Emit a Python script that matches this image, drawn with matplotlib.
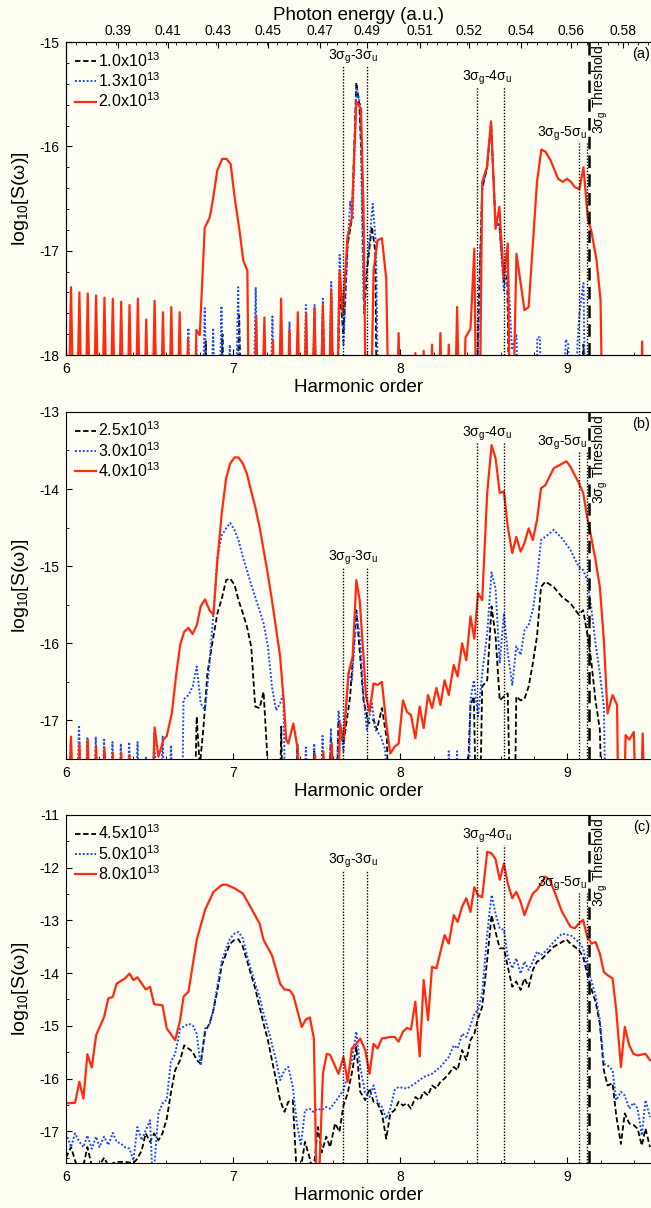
import matplotlib
matplotlib.use("Agg")
import matplotlib.pyplot as plt
from matplotlib.ticker import MultipleLocator

plt.rcParams['font.family'] = ['Liberation Sans', 'DejaVu Sans']
plt.rcParams['mathtext.fontset'] = 'custom'
plt.rcParams['mathtext.rm'] = 'Liberation Sans'
plt.rcParams['mathtext.it'] = 'Liberation Sans:italic'
plt.rcParams['mathtext.bf'] = 'Liberation Sans:bold'
plt.rcParams['axes.unicode_minus'] = False

BG = '#fffef3'

# ---- data: (harmonic order, log10 S) ----
# values of -19.5 / -19 sit below the axis floor (signal ~ 0)

# panel (a)
a_labels = ['1.0x10$^{13}$', '1.3x10$^{13}$', '2.0x10$^{13}$']
a_black = [(6.0,-19.5),(6.81,-19.5),(6.836,-17.87),(6.86,-19.5),(6.91,-19.5),(6.936,-17.80),(6.96,-19.5),
           (7.01,-19.5),(7.036,-17.62),(7.06,-19.5),(7.46,-19.5),(7.487,-17.65),(7.51,-19.5),(7.537,-17.55),
           (7.56,-19.5),(7.587,-17.45),(7.61,-19.5),(7.637,-17.38),(7.66,-17.8),(7.684,-16.95),(7.71,-16.7),
           (7.737,-15.39),(7.755,-15.6),(7.77,-16.2),(7.785,-17.6),(7.80,-17.2),(7.83,-16.77),(7.85,-17.0),
           (7.865,-19.5),(8.44,-19.5),(8.47,-17.5),(8.49,-16.4),(8.52,-16.2),(8.543,-15.78),(8.57,-16.75),
           (8.593,-16.75),(8.62,-17.3),(8.64,-17.25),(8.66,-19.5),(9.08,-19.5),(9.096,-17.9),(9.11,-19.5),(9.5,-19.5)]
a_blue = [(6.0,-19.5),(6.71,-19.5),(6.732,-17.74),(6.755,-19.5),(6.78,-17.9),(6.805,-19.5),(6.83,-17.55),
          (6.855,-19.5),(6.88,-17.74),(6.905,-19.5),(6.93,-17.53),(6.955,-19.5),(6.98,-17.9),(7.005,-19.5),
          (7.03,-17.35),(7.055,-19.5),(7.11,-19.5),(7.135,-17.35),(7.16,-19.5),(7.185,-17.8),(7.21,-19.5),
          (7.235,-17.63),(7.26,-19.5),(7.287,-17.9),(7.31,-19.5),(7.337,-17.68),(7.36,-19.5),(7.387,-17.8),
          (7.41,-19.5),(7.435,-17.52),(7.46,-19.5),(7.487,-17.52),(7.51,-19.5),(7.537,-17.46),(7.56,-19.5),
          (7.587,-17.3),(7.61,-19.5),(7.637,-17.04),(7.66,-17.9),(7.684,-17.0),(7.70,-16.53),(7.715,-16.7),
          (7.737,-15.43),(7.76,-15.6),(7.78,-17.47),(7.81,-17.0),(7.835,-16.55),(7.855,-16.95),(7.875,-19.5),
          (8.45,-19.5),(8.47,-17.63),(8.49,-16.42),(8.518,-16.2),(8.543,-15.8),(8.57,-16.7),(8.593,-16.77),
          (8.62,-17.38),(8.643,-17.12),(8.668,-17.95),(8.695,-17.8),(8.72,-19.5),(8.80,-19.5),(8.82,-17.83),
          (8.835,-17.83),(8.86,-19.5),(8.96,-19.5),(8.99,-17.85),(9.005,-17.9),(9.03,-19.5),(9.06,-17.9),
          (9.072,-17.6),(9.096,-17.31),(9.115,-19.5),(9.5,-19.5)]
a_red = [(6.005,-19.5),(6.03,-17.35),(6.055,-19.5),(6.08,-17.40),(6.105,-19.5),(6.13,-17.41),(6.155,-19.5),
         (6.18,-17.43),(6.205,-19.5),(6.23,-17.45),(6.255,-19.5),(6.28,-17.46),(6.305,-19.5),(6.33,-17.49),
         (6.355,-19.5),(6.38,-17.52),(6.405,-19.5),(6.43,-17.46),(6.455,-19.5),(6.48,-17.66),(6.505,-19.5),
         (6.53,-17.48),(6.555,-19.5),(6.58,-17.59),(6.605,-19.5),(6.63,-17.54),(6.655,-19.5),(6.68,-17.59),
         (6.705,-19.5),(6.73,-17.84),(6.755,-19.5),(6.78,-17.76),(6.80,-17.81),(6.83,-16.78),(6.86,-16.68),
         (6.88,-16.5),(6.905,-16.23),(6.935,-16.12),(6.96,-16.12),(6.985,-16.17),(7.01,-16.5),(7.04,-16.83),
         (7.06,-17.09),(7.085,-17.19),(7.10,-19.5),(7.115,-19.5),(7.138,-17.63),(7.16,-19.5),(7.187,-17.64),
         (7.21,-19.5),(7.238,-17.86),(7.26,-19.5),(7.287,-17.46),(7.31,-19.5),(7.337,-17.76),(7.36,-19.5),
         (7.387,-17.59),(7.41,-19.5),(7.437,-17.60),(7.46,-19.5),(7.487,-17.55),(7.51,-19.5),(7.537,-17.52),
         (7.56,-19.5),(7.587,-17.38),(7.61,-19.5),(7.637,-17.19),(7.656,-17.6),(7.684,-16.87),(7.71,-16.68),
         (7.737,-15.57),(7.765,-15.64),(7.78,-16.6),(7.80,-19.5),(7.815,-19.5),(7.84,-17.19),(7.864,-16.9),
         (7.89,-16.88),(7.916,-17.27),(7.94,-19.5),(7.965,-19.5),(7.99,-17.79),(8.015,-19.5),(8.065,-19.5),
         (8.09,-17.98),(8.115,-19.5),(8.14,-17.96),(8.165,-19.5),(8.19,-17.9),(8.215,-19.5),(8.24,-17.79),
         (8.265,-19.5),(8.29,-17.9),(8.315,-19.5),(8.34,-17.54),(8.365,-19.5),(8.39,-17.83),(8.42,-17.75),
         (8.443,-16.98),(8.46,-19.5),(8.47,-19.5),(8.49,-16.34),(8.518,-16.2),(8.543,-15.76),(8.57,-16.79),
         (8.593,-16.58),(8.619,-17.27),(8.643,-16.93),(8.663,-19.5),(8.695,-17.03),(8.743,-17.57),(8.768,-17.54),
         (8.818,-16.34),(8.844,-16.03),(8.868,-16.05),(8.898,-16.13),(8.944,-16.31),(8.972,-16.34),(8.998,-16.31),
         (9.02,-16.34),(9.044,-16.39),(9.072,-16.41),(9.096,-16.2),(9.122,-16.69),(9.144,-16.82),(9.174,-17.09),
         (9.198,-17.47),(9.218,-19.5),(9.43,-19.5),(9.447,-17.87),(9.465,-19.5),(9.5,-19.5)]

# panel (b)
b_labels = ['2.5x10$^{13}$', '3.0x10$^{13}$', '4.0x10$^{13}$']
b_black = [(6.005,-19),(6.03,-17.35),(6.055,-19),(6.105,-19),(6.13,-17.3),(6.155,-19),(6.205,-19),(6.23,-17.4),
           (6.255,-19),(6.76,-19),(6.782,-16.95),(6.80,-17.6),(6.822,-17.1),(6.846,-16.39),(6.882,-15.91),
           (6.906,-15.61),(6.932,-15.42),(6.958,-15.18),(6.982,-15.16),(7.008,-15.24),(7.032,-15.44),(7.058,-15.61),
           (7.082,-15.78),(7.108,-16.04),(7.132,-16.82),(7.158,-16.84),(7.182,-16.63),(7.208,-17.6),(7.22,-19),
           (7.27,-19),(7.288,-17.08),(7.30,-19),(7.36,-19),(7.385,-17.35),(7.41,-19),(7.46,-19),(7.485,-17.4),
           (7.51,-19),(7.56,-19),(7.585,-17.2),(7.61,-19),(7.63,-17.0),(7.66,-17.3),(7.70,-16.69),(7.737,-15.57),
           (7.76,-16.17),(7.78,-16.74),(7.81,-17.04),(7.84,-16.99),(7.86,-17.12),(7.89,-16.84),(7.92,-17.25),
           (7.94,-19),(8.38,-19),(8.42,-16.8),(8.44,-16.69),(8.46,-19),(8.47,-19),(8.49,-16.56),(8.52,-16.48),
           (8.546,-15.52),(8.57,-15.91),(8.595,-16.74),(8.62,-16.69),(8.643,-16.65),(8.665,-19),(8.68,-19),
           (8.694,-16.69),(8.72,-16.74),(8.743,-16.72),(8.768,-16.56),(8.793,-16.26),(8.818,-15.91),(8.842,-15.27),
           (8.868,-15.2),(8.918,-15.27),(8.968,-15.4),(9.018,-15.48),(9.068,-15.63),(9.094,-15.57),(9.118,-15.87),
           (9.142,-16.22),(9.168,-16.74),(9.194,-17.12),(9.218,-19),(9.5,-19)]
b_blue = [(6.005,-19),(6.028,-17.28),(6.053,-19),(6.078,-17.06),(6.103,-19),(6.128,-17.23),(6.153,-19),
          (6.178,-17.21),(6.203,-19),(6.228,-17.25),(6.253,-19),(6.278,-17.28),(6.303,-19),(6.328,-17.3),
          (6.353,-19),(6.378,-17.28),(6.403,-19),(6.428,-17.28),(6.453,-19),(6.478,-17.47),(6.503,-19),
          (6.528,-17.17),(6.553,-19),(6.578,-17.21),(6.603,-19),(6.628,-17.32),(6.653,-19),(6.69,-19),
          (6.703,-16.73),(6.733,-16.67),(6.758,-16.56),(6.782,-16.3),(6.806,-16.78),(6.832,-16.87),(6.858,-16.27),
          (6.882,-15.61),(6.906,-14.88),(6.932,-14.6),(6.958,-14.51),(6.982,-14.44),(7.008,-14.53),(7.032,-14.66),
          (7.058,-14.88),(7.082,-15.05),(7.108,-15.24),(7.132,-15.4),(7.158,-15.57),(7.182,-15.74),(7.208,-16.04),
          (7.232,-16.56),(7.257,-16.87),(7.281,-16.78),(7.30,-16.65),(7.32,-19),(7.36,-19),(7.385,-17.3),
          (7.41,-19),(7.435,-17.35),(7.46,-19),(7.485,-17.3),(7.51,-19),(7.535,-17.2),(7.56,-19),(7.585,-17.1),
          (7.61,-19),(7.63,-16.87),(7.66,-17.4),(7.69,-16.39),(7.71,-16.5),(7.739,-15.61),(7.76,-15.96),
          (7.78,-16.69),(7.80,-17.12),(7.83,-16.78),(7.85,-17.12),(7.88,-17.19),(7.91,-17.38),(7.93,-19),
          (8.27,-19),(8.29,-17.4),(8.31,-19),(8.32,-19),(8.34,-17.4),(8.36,-19),(8.40,-19),(8.42,-16.73),
          (8.44,-16.48),(8.465,-16.95),(8.49,-16.39),(8.52,-15.87),(8.546,-15.08),(8.57,-15.29),(8.595,-16.26),
          (8.62,-15.61),(8.643,-16.13),(8.67,-16.54),(8.694,-16.04),(8.72,-16.15),(8.743,-15.83),(8.768,-15.76),
          (8.793,-15.57),(8.818,-15.18),(8.842,-14.66),(8.868,-14.62),(8.918,-14.53),(8.968,-14.64),(9.018,-14.79),
          (9.068,-15.01),(9.094,-15.05),(9.118,-15.18),(9.142,-15.53),(9.168,-16.0),(9.194,-16.39),(9.218,-16.82),
          (9.234,-19),(9.5,-19)]
b_red = [(6.005,-19),(6.03,-17.21),(6.055,-19),(6.08,-17.3),(6.105,-19),(6.13,-17.25),(6.155,-19),(6.18,-17.34),
         (6.205,-19),(6.23,-17.36),(6.255,-19),(6.28,-17.42),(6.305,-19),(6.33,-17.42),(6.355,-19),(6.38,-17.45),
         (6.405,-19),(6.505,-19),(6.53,-17.09),(6.553,-17.47),(6.583,-17.25),(6.603,-17.2),(6.633,-16.91),
         (6.659,-16.41),(6.683,-16.02),(6.707,-15.85),(6.733,-15.8),(6.757,-15.88),(6.783,-15.76),(6.806,-15.52),
         (6.832,-15.43),(6.858,-15.57),(6.882,-15.63),(6.906,-14.92),(6.932,-14.31),(6.958,-13.86),(6.982,-13.67),
         (7.008,-13.59),(7.032,-13.59),(7.058,-13.67),(7.082,-13.8),(7.108,-14.03),(7.132,-14.23),(7.158,-14.49),
         (7.182,-14.79),(7.208,-15.11),(7.232,-15.44),(7.257,-15.81),(7.281,-16.17),(7.305,-16.82),(7.317,-17.25),
         (7.33,-17.3),(7.36,-17.04),(7.387,-17.38),(7.41,-19),(7.42,-19),(7.44,-17.6),(7.46,-19),(7.49,-17.45),
         (7.515,-19),(7.54,-17.4),(7.565,-19),(7.59,-17.3),(7.615,-19),(7.64,-17.04),(7.66,-17.25),(7.69,-16.39),
         (7.715,-16.17),(7.737,-15.18),(7.757,-15.44),(7.78,-16.17),(7.795,-16.69),(7.816,-16.89),(7.84,-16.52),
         (7.864,-16.54),(7.89,-16.5),(7.916,-17.04),(7.94,-17.43),(7.966,-17.34),(7.99,-17.3),(8.016,-16.74),
         (8.04,-16.89),(8.064,-16.93),(8.09,-17.23),(8.116,-16.82),(8.14,-17.1),(8.166,-16.67),(8.19,-16.84),
         (8.216,-16.58),(8.24,-16.8),(8.265,-16.48),(8.29,-16.67),(8.32,-16.28),(8.343,-16.43),(8.37,-16.0),
         (8.395,-16.22),(8.42,-15.65),(8.443,-15.94),(8.465,-15.35),(8.49,-15.44),(8.52,-14.05),(8.546,-13.43),
         (8.57,-13.6),(8.595,-14.05),(8.62,-14.03),(8.643,-14.49),(8.67,-14.83),(8.694,-14.62),(8.72,-14.81),
         (8.743,-14.7),(8.768,-14.51),(8.793,-14.66),(8.818,-14.4),(8.842,-13.99),(8.868,-13.95),(8.918,-13.73),
         (8.968,-13.67),(8.994,-13.64),(9.018,-13.71),(9.068,-13.92),(9.094,-14.05),(9.118,-14.36),(9.142,-14.62),
         (9.168,-14.92),(9.194,-15.27),(9.218,-15.96),(9.24,-16.91),(9.27,-16.67),(9.297,-16.8),(9.31,-19),
         (9.33,-19),(9.348,-17.19),(9.37,-17.25),(9.397,-17.15),(9.42,-19),(9.43,-19),(9.45,-17.17),(9.473,-19),
         (9.5,-19)]

# panel (c)
c_labels = ['4.5x10$^{13}$', '5.0x10$^{13}$', '8.0x10$^{13}$']
c_black = [(6.0,-17.5),(6.03,-17.3),(6.054,-17.55),(6.08,-17.8),(6.104,-17.65),(6.128,-17.3),(6.154,-17.65),
           (6.2,-17.65),(6.228,-17.5),(6.253,-17.65),(6.3,-17.58),(6.353,-17.58),(6.403,-17.6),(6.427,-17.52),
           (6.453,-17.36),(6.477,-17.04),(6.503,-17.2),(6.527,-17.04),(6.553,-17.17),(6.577,-17.04),(6.603,-16.76),
           (6.627,-16.28),(6.653,-15.84),(6.683,-15.65),(6.707,-15.37),(6.733,-15.43),(6.758,-15.49),(6.782,-15.65),
           (6.806,-15.72),(6.832,-15.11),(6.858,-14.96),(6.882,-14.7),(6.906,-14.32),(6.932,-13.85),(6.958,-13.63),
           (6.982,-13.44),(7.008,-13.37),(7.032,-13.36),(7.058,-13.5),(7.082,-13.75),(7.108,-14.04),(7.132,-14.29),
           (7.158,-14.64),(7.182,-14.96),(7.208,-15.27),(7.232,-15.65),(7.257,-16.03),(7.281,-16.41),(7.307,-16.63),
           (7.33,-16.44),(7.357,-16.41),(7.38,-17.8),(7.40,-17.8),(7.43,-17.2),(7.457,-17.5),(7.48,-17.8),
           (7.507,-16.92),(7.53,-17.4),(7.557,-17.1),(7.58,-17.3),(7.61,-16.85),(7.636,-17.01),(7.66,-16.51),
           (7.685,-16.28),(7.71,-15.9),(7.737,-15.4),(7.76,-16.25),(7.79,-16.41),(7.816,-16.19),(7.84,-16.44),
           (7.864,-16.47),(7.89,-16.66),(7.916,-17.14),(7.94,-16.66),(7.966,-16.6),(7.99,-16.44),(8.016,-16.51),
           (8.04,-16.47),(8.064,-16.57),(8.09,-16.35),(8.116,-16.41),(8.14,-16.25),(8.166,-16.32),(8.19,-16.13),
           (8.216,-16.19),(8.24,-16.06),(8.265,-16.0),(8.29,-15.91),(8.32,-15.78),(8.343,-15.84),(8.37,-15.46),
           (8.395,-15.65),(8.42,-15.27),(8.443,-15.15),(8.465,-14.86),(8.49,-14.64),(8.52,-13.75),(8.546,-12.9),
           (8.57,-13.22),(8.595,-13.53),(8.62,-13.53),(8.643,-13.88),(8.67,-14.26),(8.694,-14.16),(8.72,-14.32),
           (8.743,-14.1),(8.768,-14.26),(8.793,-13.94),(8.818,-13.78),(8.842,-13.75),(8.868,-13.66),(8.918,-13.5),
           (8.968,-13.41),(8.994,-13.36),(9.018,-13.44),(9.068,-13.56),(9.094,-13.69),(9.118,-14.01),(9.142,-14.29),
           (9.168,-14.54),(9.194,-14.96),(9.218,-15.84),(9.24,-16.13),(9.27,-16.09),(9.292,-16.7),(9.32,-17.24),
           (9.343,-16.66),(9.37,-16.85),(9.395,-16.88),(9.42,-16.95),(9.445,-17.27),(9.467,-16.95),(9.494,-17.3)]
c_blue = [(6.0,-17.04),(6.03,-17.3),(6.054,-17.04),(6.08,-17.2),(6.104,-17.3),(6.128,-17.08),(6.154,-17.33),
          (6.18,-17.1),(6.2,-17.3),(6.228,-17.1),(6.253,-17.26),(6.28,-17.03),(6.303,-17.2),(6.327,-17.23),
          (6.353,-17.3),(6.38,-17.33),(6.403,-17.55),(6.427,-16.92),(6.453,-17.17),(6.477,-16.98),(6.503,-16.79),
          (6.515,-17.7),(6.527,-17.7),(6.553,-16.66),(6.577,-16.47),(6.603,-16.4),(6.627,-15.68),(6.653,-15.53),
          (6.683,-15.05),(6.707,-15.01),(6.733,-14.96),(6.758,-14.99),(6.782,-15.15),(6.806,-15.75),(6.832,-15.05),
          (6.858,-14.99),(6.882,-14.7),(6.906,-14.23),(6.932,-13.78),(6.958,-13.53),(6.982,-13.34),(7.008,-13.25),
          (7.032,-13.22),(7.058,-13.34),(7.082,-13.66),(7.108,-13.94),(7.132,-14.2),(7.158,-14.45),(7.182,-14.77),
          (7.208,-15.05),(7.232,-15.34),(7.257,-15.65),(7.281,-16.03),(7.307,-15.84),(7.33,-15.78),(7.357,-16.16),
          (7.38,-16.82),(7.405,-17.27),(7.43,-16.6),(7.457,-16.57),(7.48,-16.63),(7.505,-16.57),(7.53,-16.6),
          (7.557,-16.54),(7.58,-16.57),(7.62,-16.4),(7.66,-16.22),(7.71,-15.65),(7.737,-15.11),(7.76,-15.78),
          (7.79,-16.28),(7.816,-16.35),(7.84,-16.13),(7.864,-16.44),(7.89,-16.54),(7.916,-16.76),(7.94,-16.57),
          (7.966,-16.22),(7.99,-16.16),(8.04,-16.19),(8.09,-16.09),(8.14,-15.97),(8.19,-15.91),(8.24,-15.78),
          (8.29,-15.59),(8.32,-15.37),(8.343,-15.43),(8.37,-15.15),(8.395,-15.21),(8.42,-14.99),(8.443,-14.77),
          (8.465,-14.7),(8.49,-14.39),(8.52,-13.25),(8.546,-12.52),(8.57,-12.87),(8.595,-13.15),(8.62,-13.18),
          (8.643,-13.69),(8.67,-13.91),(8.694,-13.72),(8.72,-14.01),(8.743,-13.78),(8.768,-13.94),(8.793,-13.78),
          (8.818,-13.59),(8.842,-13.66),(8.868,-13.59),(8.918,-13.41),(8.968,-13.25),(8.994,-13.27),(9.018,-13.28),
          (9.068,-13.41),(9.094,-13.53),(9.118,-13.88),(9.142,-14.13),(9.168,-14.42),(9.194,-14.89),(9.218,-15.72),
          (9.24,-15.75),(9.27,-15.84),(9.292,-16.41),(9.32,-16.25),(9.343,-16.32),(9.37,-16.57),(9.395,-16.46),
          (9.42,-16.57),(9.445,-17.08),(9.467,-16.41),(9.494,-16.73)]
c_red = [(6.0,-16.47),(6.054,-16.46),(6.08,-16.06),(6.104,-16.38),(6.128,-15.54),(6.154,-15.79),(6.18,-15.18),
         (6.228,-14.83),(6.253,-14.48),(6.28,-14.45),(6.303,-14.2),(6.353,-14.1),(6.38,-14.01),(6.403,-14.13),
         (6.427,-14.08),(6.477,-14.31),(6.503,-14.26),(6.527,-14.59),(6.577,-14.61),(6.603,-15.05),(6.653,-15.27),
         (6.683,-14.89),(6.703,-14.45),(6.733,-14.35),(6.782,-13.37),(6.832,-12.8),(6.882,-12.46),(6.932,-12.33),
         (6.958,-12.32),(7.008,-12.39),(7.058,-12.49),(7.108,-12.77),(7.158,-13.06),(7.182,-13.37),(7.232,-13.66),
         (7.281,-14.2),(7.307,-14.31),(7.337,-14.32),(7.36,-14.42),(7.41,-15.02),(7.435,-14.88),(7.459,-14.84),
         (7.483,-15.24),(7.50,-18.2),(7.513,-18.0),(7.537,-15.91),(7.56,-15.53),(7.58,-15.55),(7.63,-15.91),
         (7.66,-15.59),(7.685,-16.06),(7.71,-15.43),(7.737,-15.34),(7.76,-15.24),(7.79,-15.46),(7.816,-15.91),
         (7.84,-15.34),(7.864,-15.43),(7.89,-15.24),(7.94,-15.21),(7.966,-15.21),(7.99,-15.3),(8.016,-15.11),
         (8.04,-15.04),(8.064,-15.07),(8.09,-14.54),(8.116,-15.58),(8.14,-14.13),(8.166,-14.89),(8.19,-13.88),
         (8.216,-13.91),(8.265,-13.28),(8.29,-13.44),(8.32,-12.9),(8.343,-13.03),(8.37,-12.74),(8.395,-12.58),
         (8.42,-12.84),(8.443,-12.37),(8.465,-12.52),(8.49,-12.56),(8.52,-11.7),(8.546,-11.73),(8.57,-11.84),
         (8.595,-12.23),(8.62,-11.92),(8.643,-12.3),(8.67,-12.58),(8.694,-12.46),(8.72,-12.65),(8.743,-12.9),
         (8.768,-12.68),(8.793,-12.49),(8.818,-12.42),(8.868,-12.17),(8.894,-12.23),(8.918,-12.42),(8.968,-12.84),
         (9.018,-13.12),(9.044,-13.15),(9.068,-13.06),(9.094,-12.99),(9.118,-13.31),(9.144,-13.44),(9.168,-13.41),
         (9.194,-13.63),(9.218,-13.98),(9.24,-14.04),(9.27,-14.1),(9.292,-14.7),(9.32,-15.78),(9.343,-15.02),
         (9.37,-15.37),(9.395,-15.53),(9.42,-15.56),(9.467,-15.53),(9.494,-15.65)]

# transition lines (harmonic order) and labels
pair_lines = [(7.656, 7.80), (8.457, 8.618), (9.07, 9.116)]
pair_text = ['3σ$_\\mathrm{g}$-3σ$_\\mathrm{u}$', '3σ$_\\mathrm{g}$-4σ$_\\mathrm{u}$', '3σ$_\\mathrm{g}$-5σ$_\\mathrm{u}$']
pair_text_x = [7.72, 8.52, 8.97]
threshold = 9.128

# top axis (photon energy) of panel (a)
top_pos = [6.31, 6.61, 6.91, 7.21, 7.52, 7.80, 8.12, 8.41, 8.72, 9.02, 9.33]
top_labels = ['0.39', '0.41', '0.43', '0.45', '0.47', '0.49', '0.51', '0.52', '0.54', '0.56', '0.58']

panels = [
    dict(series=(a_black, a_blue, a_red), labels=a_labels, ylim=(-18, -15), minor=0.2,
         tops=[-15.23, -15.43, -15.97], tag='(a)', rect=[0.1014, 0.7061, 0.8986, 0.2591]),
    dict(series=(b_black, b_blue, b_red), labels=b_labels, ylim=(-17.5, -13), minor=0.5,
         tops=[-15.01, -13.40, -13.52], tag='(b)', rect=[0.1014, 0.3717, 0.8986, 0.2873]),
    dict(series=(c_black, c_blue, c_red), labels=c_labels, ylim=(-17.6, -11), minor=0.5,
         tops=[-12.04, -11.57, -12.48], tag='(c)', rect=[0.1014, 0.0373, 0.8986, 0.2881]),
]

styles = [dict(color='black', ls=(0, (3, 1.5)), lw=1.3),
          dict(color='#1f4cf0', ls=(0, (1, 1)), lw=1.4),
          dict(color='#ff2a10', ls='-', lw=1.6)]

fig = plt.figure(figsize=(6.51, 12.08), dpi=100, facecolor=BG)

for i, p in enumerate(panels):
    ax = fig.add_axes(p['rect'])
    ax.set_facecolor(BG)
    for data, lab, st in zip(p['series'], p['labels'], styles):
        h = [d[0] for d in data]
        v = [d[1] for d in data]
        ax.plot(h, v, label=lab, **st)

    ax.set_xlim(6, 9.5)
    ax.set_ylim(*p['ylim'])
    ax.xaxis.set_major_locator(MultipleLocator(1))
    ax.xaxis.set_minor_locator(MultipleLocator(0.2))
    ax.yaxis.set_major_locator(MultipleLocator(1))
    ax.yaxis.set_minor_locator(MultipleLocator(p['minor']))
    ax.tick_params(which='both', direction='in', top=False, right=False, labelsize=10)
    ax.tick_params(which='major', length=4, pad=5)
    ax.tick_params(which='minor', length=2.5)
    ax.spines['right'].set_visible(False)
    ax.set_xlabel('Harmonic order', fontsize=13.5, labelpad=2)
    ax.set_ylabel('log$_{10}$[S(ω)]', fontsize=14, labelpad=6)

    # transition markers
    for (x1, x2), top, txt, tx in zip(pair_lines, p['tops'], pair_text, pair_text_x):
        for xx in (x1, x2):
            ax.plot([xx, xx], [p['ylim'][0], top], color='black', ls=(0, (1, 1.2)), lw=1.0)
        ax.text(tx, top, txt, ha='center', va='bottom', fontsize=10)
    ax.axvline(threshold, color='black', ls=(0, (5, 2.5)), lw=1.8)
    ax.text(threshold + 0.07, 0.99, '3σ$_\\mathrm{g}$ Threshold', rotation=90, ha='center', va='top',
            fontsize=10, transform=ax.get_xaxis_transform())
    ax.text(0.998, 0.985, p['tag'], ha='right', va='top', fontsize=10.5, transform=ax.transAxes)

    ax.legend(loc='upper left', frameon=False, fontsize=11.5, handlelength=1.3, handletextpad=0.15,
              labelspacing=0.1, borderaxespad=0.25, borderpad=0.3)

    if i == 0:
        top = ax.twiny()
        top.set_xlim(6, 9.5)
        top.set_xticks(top_pos)
        top.set_xticklabels(top_labels)
        top.xaxis.set_minor_locator(MultipleLocator(0.06))
        top.tick_params(which='both', direction='in', labelsize=10)
        top.tick_params(which='major', length=4, pad=3)
        top.tick_params(which='minor', length=2.5)
        top.spines['right'].set_visible(False)
        top.set_xlabel('Photon energy (a.u.)', fontsize=13.5, labelpad=3)

fig.savefig('out.png', dpi=100, facecolor=BG)
